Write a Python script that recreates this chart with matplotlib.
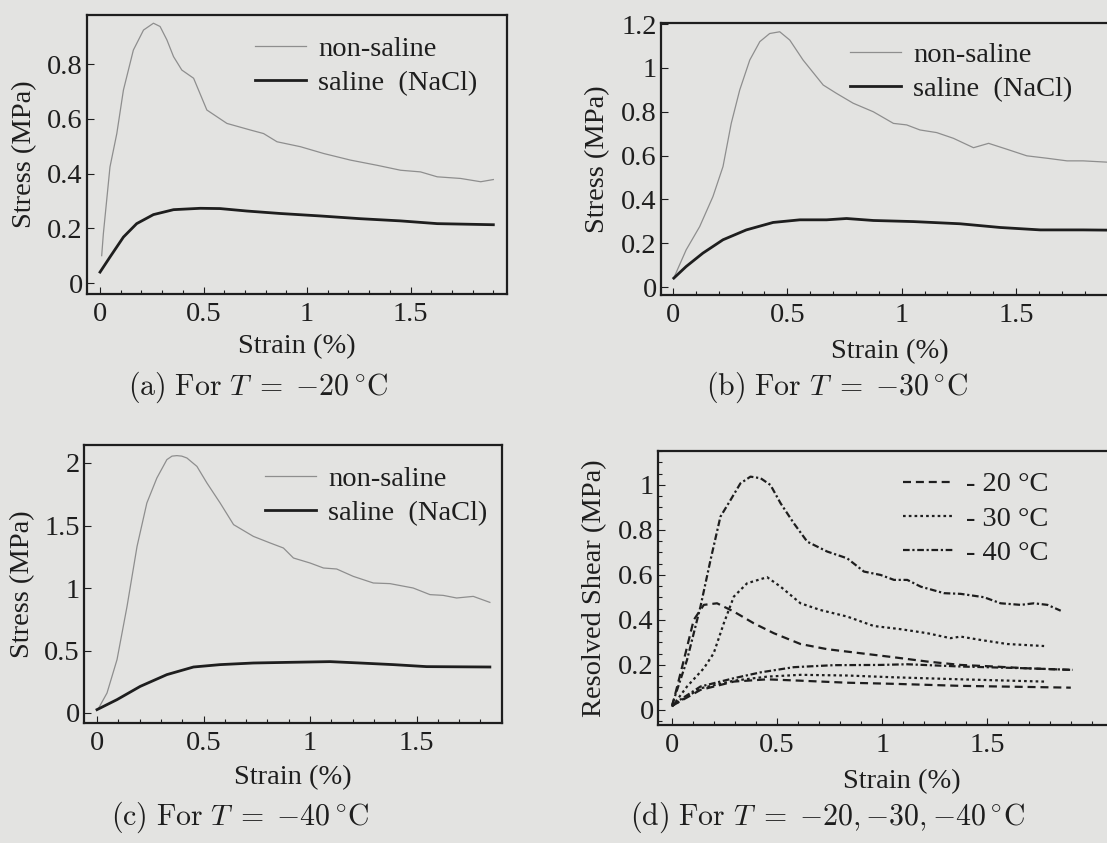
import matplotlib
matplotlib.use("Agg")
import matplotlib.pyplot as plt
from matplotlib.ticker import MultipleLocator, FixedLocator, FormatStrFormatter

plt.rcParams['font.family'] = ['Liberation Serif', 'DejaVu Serif']
plt.rcParams['mathtext.fontset'] = 'cm'

PAPER = '#e3e3e1'
INK = '#1e1e1e'
GREY = '#8e8e8e'

# (a) T = -20 C
a_ns_x = [0.008, 0.016, 0.048, 0.081, 0.113, 0.161, 0.21, 0.258, 0.29, 0.323, 0.355, 0.395, 0.452,
          0.516, 0.613, 0.726, 0.79, 0.855, 0.968, 1.081, 1.21, 1.339, 1.452, 1.548, 1.629, 1.742,
          1.839, 1.9]
a_ns_y = [0.10, 0.18, 0.424, 0.546, 0.705, 0.851, 0.924, 0.949, 0.937, 0.888, 0.827, 0.778, 0.748,
          0.632, 0.583, 0.559, 0.546, 0.516, 0.498, 0.473, 0.449, 0.430, 0.412, 0.406, 0.388, 0.382,
          0.370, 0.378]
a_s_x = [0.0, 0.048, 0.113, 0.177, 0.258, 0.355, 0.484, 0.58, 0.71, 0.871, 1.065, 1.258, 1.452, 1.629, 1.9]
a_s_y = [0.04, 0.095, 0.168, 0.217, 0.25, 0.268, 0.273, 0.272, 0.263, 0.254, 0.245, 0.235, 0.227, 0.217, 0.213]

# (b) T = -30 C
b_ns_x = [0.007, 0.058, 0.117, 0.175, 0.219, 0.255, 0.292, 0.336, 0.380, 0.423, 0.467, 0.511, 0.569,
          0.657, 0.715, 0.788, 0.876, 0.964, 1.022, 1.08, 1.153, 1.226, 1.314, 1.380, 1.460, 1.547,
          1.635, 1.723, 1.793, 1.9]
b_ns_y = [0.049, 0.170, 0.276, 0.413, 0.55, 0.747, 0.899, 1.036, 1.12, 1.157, 1.165, 1.127, 1.036,
          0.922, 0.884, 0.839, 0.80, 0.747, 0.74, 0.717, 0.705, 0.679, 0.636, 0.656, 0.629, 0.599,
          0.588, 0.576, 0.576, 0.57]
b_s_x = [0.004, 0.058, 0.131, 0.219, 0.321, 0.438, 0.555, 0.672, 0.759, 0.876, 1.051, 1.255, 1.431, 1.606, 1.793, 1.9]
b_s_y = [0.041, 0.094, 0.155, 0.216, 0.261, 0.295, 0.307, 0.307, 0.313, 0.304, 0.299, 0.289, 0.272, 0.261, 0.261, 0.26]

# (c) T = -40 C
c_ns_x = [0.008, 0.047, 0.094, 0.141, 0.188, 0.234, 0.281, 0.328, 0.352, 0.375, 0.398, 0.422, 0.469,
          0.516, 0.578, 0.641, 0.734, 0.813, 0.875, 0.922, 1.0, 1.063, 1.125, 1.203, 1.297, 1.375,
          1.484, 1.563, 1.625, 1.688, 1.766, 1.844]
c_ns_y = [0.04, 0.16, 0.427, 0.853, 1.333, 1.68, 1.88, 2.027, 2.055, 2.059, 2.055, 2.04, 1.973,
          1.84, 1.68, 1.507, 1.413, 1.36, 1.32, 1.24, 1.20, 1.16, 1.152, 1.093, 1.04, 1.035,
          1.0, 0.947, 0.941, 0.92, 0.933, 0.885]
c_s_x = [0.0, 0.094, 0.203, 0.328, 0.453, 0.578, 0.734, 0.891, 1.094, 1.234, 1.391, 1.547, 1.844]
c_s_y = [0.027, 0.107, 0.213, 0.307, 0.368, 0.387, 0.40, 0.405, 0.411, 0.40, 0.387, 0.371, 0.368]

# (d) resolved shear, all three temperatures
d20_x = [0.0, 0.056, 0.103, 0.151, 0.214, 0.294, 0.389, 0.484, 0.611, 0.738, 0.897, 1.056, 1.214,
         1.373, 1.532, 1.690, 1.897]
d20_y = [0.015, 0.222, 0.40, 0.467, 0.474, 0.437, 0.385, 0.341, 0.293, 0.27, 0.252, 0.234, 0.215,
         0.20, 0.193, 0.185, 0.178]
d30_x = [0.0, 0.071, 0.151, 0.198, 0.246, 0.294, 0.357, 0.452, 0.516, 0.611, 0.706, 0.833, 0.960,
         1.087, 1.214, 1.325, 1.373, 1.468, 1.595, 1.770]
d30_y = [0.015, 0.104, 0.185, 0.252, 0.385, 0.504, 0.563, 0.590, 0.548, 0.474, 0.444, 0.415, 0.373,
         0.359, 0.341, 0.319, 0.326, 0.311, 0.293, 0.284]
d40_x = [0.0, 0.071, 0.135, 0.183, 0.230, 0.278, 0.325, 0.373, 0.421, 0.468, 0.516, 0.579, 0.643,
         0.738, 0.833, 0.913, 0.992, 1.056, 1.119, 1.183, 1.294, 1.373, 1.484, 1.563, 1.659, 1.722,
         1.786, 1.849]
d40_y = [0.022, 0.222, 0.459, 0.667, 0.859, 0.933, 1.007, 1.037, 1.03, 1.0, 0.919, 0.83, 0.748,
         0.704, 0.674, 0.615, 0.60, 0.578, 0.578, 0.548, 0.519, 0.516, 0.501, 0.474, 0.467, 0.474,
         0.467, 0.441]
d20s_x = [0.0, 0.135, 0.294, 0.452, 0.611, 0.833, 1.056, 1.373, 1.897]
d20s_y = [0.018, 0.089, 0.126, 0.136, 0.13, 0.121, 0.116, 0.107, 0.099]
d30s_x = [0.0, 0.135, 0.294, 0.452, 0.611, 0.833, 1.056, 1.373, 1.770]
d30s_y = [0.018, 0.096, 0.13, 0.148, 0.156, 0.153, 0.145, 0.136, 0.126]
d40s_x = [0.0, 0.135, 0.294, 0.421, 0.579, 0.77, 0.992, 1.119, 1.373, 1.690, 1.905]
d40s_y = [0.022, 0.104, 0.141, 0.167, 0.19, 0.199, 0.20, 0.203, 0.193, 0.185, 0.178]

x_major = [0, 0.5, 1, 1.5]

W, H = 1107, 843
FS = 20.5      # tick / label / legend size
CFS = 21.5     # caption size
fig = plt.figure(figsize=(W / 100, H / 100), dpi=100, facecolor=PAPER)


def make_ax(left, top, right, bottom, xlim, ylim, ystep, yminor=None):
    ax = fig.add_axes([left / W, 1 - bottom / H, (right - left) / W, (bottom - top) / H])
    ax.set_facecolor(PAPER)
    ax.set_xlim(*xlim)
    ax.set_ylim(*ylim)
    ax.xaxis.set_major_locator(FixedLocator(x_major))
    ax.xaxis.set_minor_locator(MultipleLocator(0.1))
    ax.yaxis.set_major_locator(MultipleLocator(ystep))
    if yminor:
        ax.yaxis.set_minor_locator(MultipleLocator(yminor))
    ax.xaxis.set_major_formatter(FormatStrFormatter('%g'))
    ax.yaxis.set_major_formatter(FormatStrFormatter('%g'))
    ax.tick_params(which='both', direction='in', colors=INK, labelsize=FS, width=0.8)
    ax.tick_params(which='major', length=5)
    ax.tick_params(which='minor', length=3)
    ax.tick_params(axis='x', which='major', pad=6)
    ax.tick_params(axis='y', which='major', pad=3)
    for s in ax.spines.values():
        s.set_linewidth(1.6)
        s.set_color(INK)
    return ax


def labels(ax, ylabel, caption, xl_y, cap_x, cap_y, yl_x):
    pos = ax.get_position()
    ax.set_xlabel('Strain (%)', fontsize=FS, color=INK, va='center')
    ax.xaxis.set_label_coords(0.5, (1 - xl_y / H - pos.y0) / pos.height)
    ax.set_ylabel(ylabel, fontsize=FS, color=INK, va='center')
    ax.yaxis.set_label_coords((yl_x / W - pos.x0) / pos.width, 0.5)
    fig.text(cap_x / W, 1 - cap_y / H, caption, fontsize=CFS, color=INK, ha='center', va='center')


def legend(ax, x, y, spacing=0.3):
    lg = ax.legend(loc='upper left', bbox_to_anchor=(x, y), frameon=False, fontsize=FS,
                   handlelength=1.8, handletextpad=0.42, labelspacing=spacing, borderpad=0,
                   borderaxespad=0)
    for t in lg.get_texts():
        t.set_color(INK)


def caption(letter, temps):
    return r'$\mathrm{(' + letter + r')\ For\ }T\;=\;' + temps + r'\,^{\circ}\mathrm{C}$'


# (a)
ax = make_ax(87, 15, 507, 294, (-0.063, 1.966), (-0.04, 0.979), 0.2)
ax.plot(a_ns_x, a_ns_y, color=GREY, lw=0.9, label='non-saline')
ax.plot(a_s_x, a_s_y, color=INK, lw=2.0, label='saline  (NaCl)')
legend(ax, (255 - 87) / 420, 0.925)
labels(ax, 'Stress (MPa)', caption('a', '{-20}'), 347, 258, 387, 25)

# (b)
ax = make_ax(661, 23, 661 + 458, 295, (-0.052, 1.95), (-0.036, 1.205), 0.2)
ax.plot(b_ns_x, b_ns_y, color=GREY, lw=0.9, label='non-saline')
ax.plot(b_s_x, b_s_y, color=INK, lw=2.0, label='saline  (NaCl)')
legend(ax, (850 - 661) / 458, 0.93)
labels(ax, 'Stress (MPa)', caption('b', '{-30}'), 352, 837, 387, 598)

# (c)
ax = make_ax(84, 445, 502, 723, (-0.061, 1.901), (-0.08, 2.144), 0.5)
ax.plot(c_ns_x, c_ns_y, color=GREY, lw=0.9, label='non-saline')
ax.plot(c_s_x, c_s_y, color=INK, lw=2.0, label='saline  (NaCl)')
legend(ax, (265 - 84) / 418, 0.925)
labels(ax, 'Stress (MPa)', caption('c', '{-40}'), 778, 240, 817, 23)

# (d)
ax = make_ax(658, 451, 658 + 487, 725, (-0.067, 2.25), (-0.067, 1.151), 0.2, 0.05)
ls20 = (0, (3.6, 2.2))
ls30 = (0, (1.2, 1.4))
ls40 = (0, (3, 1.2, 1, 1.2))
ax.plot(d20_x, d20_y, color=INK, lw=1.6, ls=ls20, label='- 20 °C')
ax.plot(d30_x, d30_y, color=INK, lw=1.6, ls=ls30, label='- 30 °C')
ax.plot(d40_x, d40_y, color=INK, lw=1.6, ls=ls40, label='- 40 °C')
ax.plot(d20s_x, d20s_y, color=INK, lw=1.6, ls=ls20)
ax.plot(d30s_x, d30s_y, color=INK, lw=1.6, ls=ls30)
ax.plot(d40s_x, d40s_y, color=INK, lw=1.6, ls=ls40)
legend(ax, (903 - 658) / 487, 0.925, spacing=0.3)
labels(ax, 'Resolved Shear (MPa)', caption('d', '{-20},{-30},{-40}'), 782, 828, 817, 595)

fig.savefig('out.png', dpi=100, facecolor=PAPER)
